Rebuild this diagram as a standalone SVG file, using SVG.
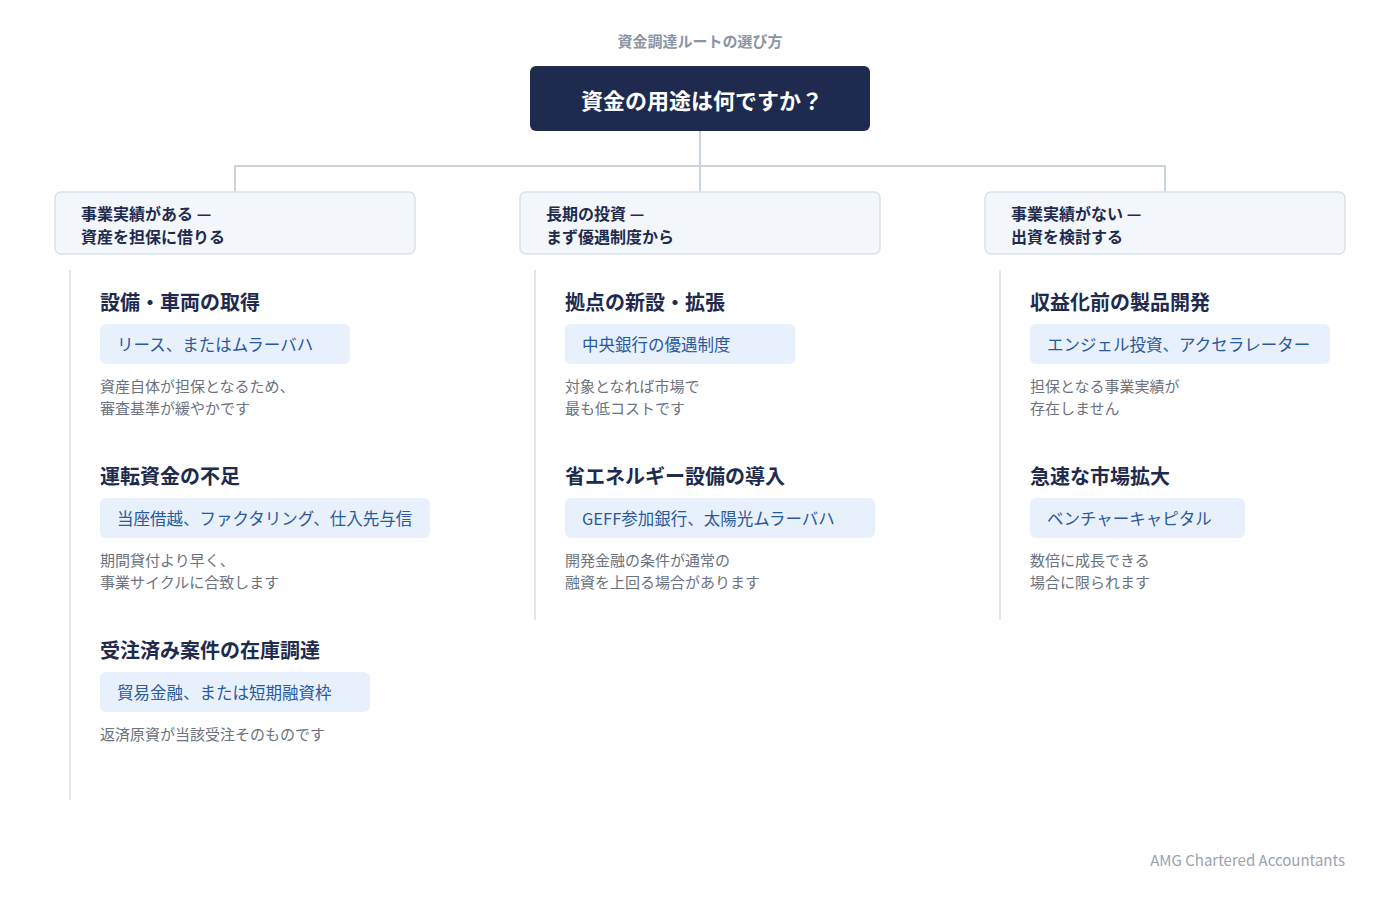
<svg xmlns="http://www.w3.org/2000/svg" width="1400" height="900" viewBox="0 0 1400 900">
<style>
text{font-family:"Noto Sans CJK JP","Noto Sans",sans-serif;dominant-baseline:central}
.cap{font-size:15px;font-weight:600;fill:#8b94a3}
.rootbox{fill:#1e2b4e}
.roottxt{font-size:22px;font-weight:700;fill:#ffffff}
.conn{stroke:#cbd3dd;stroke-width:2;fill:none}
.branch{fill:#f3f6fa;stroke:#dbe1e9;stroke-width:1.5}
.btxt{font-size:16px;font-weight:700;fill:#1e2b4e}
.col{stroke:#e3e7ed;stroke-width:2}
.ititle{font-size:20px;font-weight:700;fill:#1e2b4e}
.chip{fill:#e8f0fb}
.ctxt{font-size:16.5px;fill:#2a5a9c}
.desc{font-size:15px;fill:#6b7280}
.foot{font-size:15px;fill:#9aa3b0}
</style>
<text class="cap" x="700" y="40" text-anchor="middle">資金調達ルートの選び方</text>
<g id="root">
<rect class="rootbox" x="530" y="66" width="340" height="65" rx="6"/>
<text class="roottxt" x="702" y="99" text-anchor="middle">資金の用途は何ですか？</text>
</g>
<g id="connectors">
<path class="conn" d="M700 131 V166 M235 192 V166 H1165 V192 M700 166 V192"/>
<line class="col" x1="70" y1="270" x2="70" y2="800"/>
<line class="col" x1="535" y1="270" x2="535" y2="620"/>
<line class="col" x1="1000" y1="270" x2="1000" y2="620"/>
</g>
<g id="branch-1">
<rect class="branch" x="55" y="192" width="360" height="62" rx="6"/>
<text class="btxt" x="81" y="213">事業実績がある —</text>
<text class="btxt" x="81" y="236">資産を担保に借りる</text>
</g>
<g id="branch-2">
<rect class="branch" x="520" y="192" width="360" height="62" rx="6"/>
<text class="btxt" x="546" y="213">長期の投資 —</text>
<text class="btxt" x="546" y="236">まず優遇制度から</text>
</g>
<g id="branch-3">
<rect class="branch" x="985" y="192" width="360" height="62" rx="6"/>
<text class="btxt" x="1011" y="213">事業実績がない —</text>
<text class="btxt" x="1011" y="236">出資を検討する</text>
</g>
<g id="item-1-1">
<text class="ititle" x="100" y="301">設備・車両の取得</text>
<rect class="chip" x="100" y="324" width="250" height="40" rx="6"/>
<text class="ctxt" x="117" y="343.5">リース、またはムラーバハ</text>
<text class="desc" x="100" y="385">資産自体が担保となるため、</text>
<text class="desc" x="100" y="407">審査基準が緩やかです</text>
</g>
<g id="item-1-2">
<text class="ititle" x="100" y="475">運転資金の不足</text>
<rect class="chip" x="100" y="498" width="330" height="40" rx="6"/>
<text class="ctxt" x="117" y="517.5">当座借越、ファクタリング、仕入先与信</text>
<text class="desc" x="100" y="559">期間貸付より早く、</text>
<text class="desc" x="100" y="581">事業サイクルに合致します</text>
</g>
<g id="item-1-3">
<text class="ititle" x="100" y="649">受注済み案件の在庫調達</text>
<rect class="chip" x="100" y="672" width="270" height="40" rx="6"/>
<text class="ctxt" x="117" y="691.5">貿易金融、または短期融資枠</text>
<text class="desc" x="100" y="733">返済原資が当該受注そのものです</text>
</g>
<g id="item-2-1">
<text class="ititle" x="565" y="301">拠点の新設・拡張</text>
<rect class="chip" x="565" y="324" width="230" height="40" rx="6"/>
<text class="ctxt" x="582" y="343.5">中央銀行の優遇制度</text>
<text class="desc" x="565" y="385">対象となれば市場で</text>
<text class="desc" x="565" y="407">最も低コストです</text>
</g>
<g id="item-2-2">
<text class="ititle" x="565" y="475">省エネルギー設備の導入</text>
<rect class="chip" x="565" y="498" width="310" height="40" rx="6"/>
<text class="ctxt" x="582" y="517.5">GEFF参加銀行、太陽光ムラーバハ</text>
<text class="desc" x="565" y="559">開発金融の条件が通常の</text>
<text class="desc" x="565" y="581">融資を上回る場合があります</text>
</g>
<g id="item-3-1">
<text class="ititle" x="1030" y="301">収益化前の製品開発</text>
<rect class="chip" x="1030" y="324" width="300" height="40" rx="6"/>
<text class="ctxt" x="1047" y="343.5">エンジェル投資、アクセラレーター</text>
<text class="desc" x="1030" y="385">担保となる事業実績が</text>
<text class="desc" x="1030" y="407">存在しません</text>
</g>
<g id="item-3-2">
<text class="ititle" x="1030" y="475">急速な市場拡大</text>
<rect class="chip" x="1030" y="498" width="215" height="40" rx="6"/>
<text class="ctxt" x="1047" y="517.5">ベンチャーキャピタル</text>
<text class="desc" x="1030" y="559">数倍に成長できる</text>
<text class="desc" x="1030" y="581">場合に限られます</text>
</g>
<text class="foot" x="1345" y="859" text-anchor="end">AMG Chartered Accountants</text>
</svg>
